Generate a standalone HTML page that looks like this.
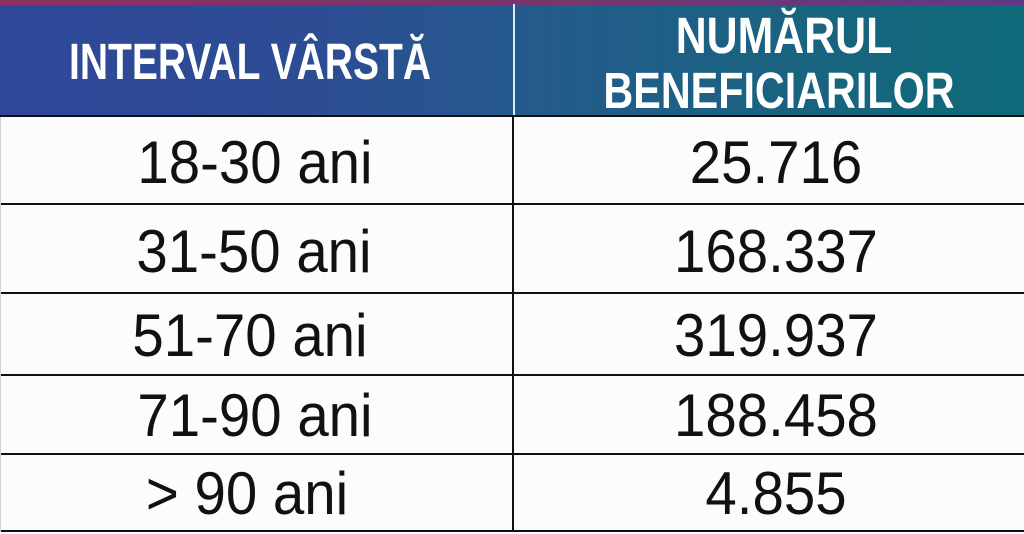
<!DOCTYPE html>
<html>
<head>
<meta charset="utf-8">
<style>
  html,body{margin:0;padding:0;}
  body{width:1024px;height:534px;position:relative;overflow:hidden;background:#fcfcfc;font-family:"Liberation Sans",sans-serif;}
  .strip{position:absolute;left:0;top:0;width:1024px;height:5px;background:linear-gradient(90deg,#8c3062 0%,#7a3668 45%,#5e3a86 100%);}
  .head{position:absolute;left:0;top:4px;width:1024px;height:112px;background:linear-gradient(90deg,#2f4898 0%,#2d4c94 30%,#245a8c 52%,#18647e 80%,#0e6a78 100%);}
  .hdiv{position:absolute;left:513px;top:4px;width:2px;height:112px;background:#dbe9f0;}
  .hl{position:absolute;left:0;width:1024px;height:2px;background:#111;}
  .vl{position:absolute;left:512px;top:116px;width:2px;height:416px;background:#111;}
  .ledge{position:absolute;left:0;top:117px;width:1px;height:415px;background:#cfd4de;}
  .t{position:absolute;width:600px;text-align:center;white-space:nowrap;transform-origin:50% 50%;}
  .h{color:#fff;font-weight:bold;font-size:51px;line-height:51px;}
  .b{color:#111;font-size:60px;line-height:60px;transform:scaleX(0.94);}
  .bottom{position:absolute;left:0;top:532px;width:1024px;height:2px;background:#fff;}
</style>
</head>
<body>
  <div class="head"></div>
  <div class="strip"></div>
  <div class="hdiv"></div>

  <div class="t h" style="left:-50px;top:36px;transform:scaleX(0.765);">INTERVAL VÂRSTĂ</div>
  <div class="t h" style="left:484px;top:10px;transform:scaleX(0.84);">NUMĂRUL</div>
  <div class="t h" style="left:479px;top:65px;transform:scaleX(0.81);">BENEFICIARILOR</div>

  <div class="hl" style="top:115px;"></div>
  <div class="hl" style="top:203px;"></div>
  <div class="hl" style="top:292px;"></div>
  <div class="hl" style="top:374px;"></div>
  <div class="hl" style="top:453px;"></div>
  <div class="hl" style="top:530px;"></div>
  <div class="vl"></div>
  <div class="ledge"></div>
  <div class="bottom"></div>

  <div class="t b" style="left:-45px;top:133px;">18-30 ani</div>
  <div class="t b" style="left:-46px;top:222px;">31-50 ani</div>
  <div class="t b" style="left:-50px;top:306px;">51-70 ani</div>
  <div class="t b" style="left:-45px;top:386px;">71-90 ani</div>
  <div class="t b" style="left:-53px;top:464px;">&gt; 90 ani</div>

  <div class="t b" style="left:476px;top:133px;">25.716</div>
  <div class="t b" style="left:476px;top:222px;">168.337</div>
  <div class="t b" style="left:476px;top:306px;">319.937</div>
  <div class="t b" style="left:476px;top:386px;">188.458</div>
  <div class="t b" style="left:476px;top:464px;">4.855</div>
</body>
</html>
